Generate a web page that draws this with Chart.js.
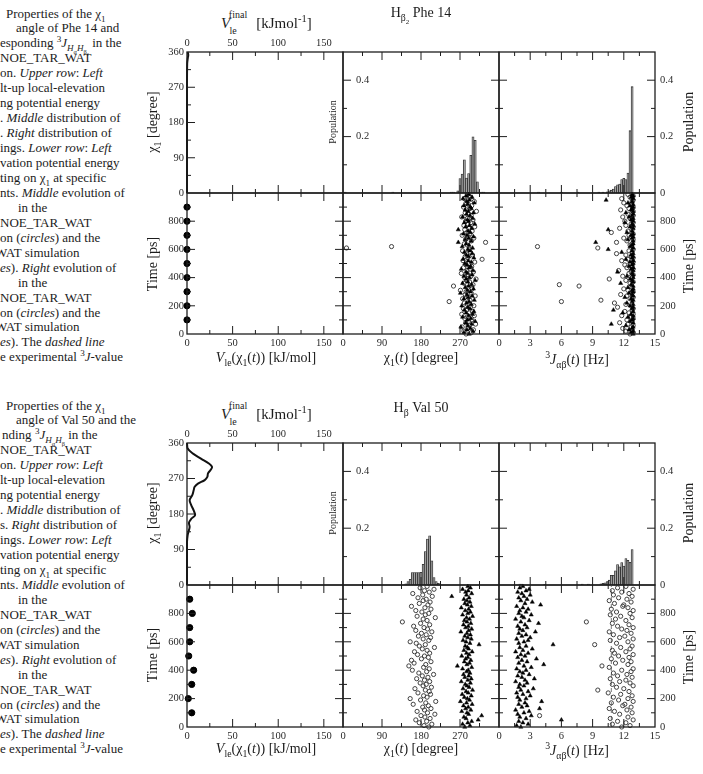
<!DOCTYPE html>
<html>
<head>
<meta charset="utf-8">
<title>chi1 and 3J properties</title>
<script src="https://cdn.jsdelivr.net/npm/chart.js@4.4.1/dist/chart.umd.min.js"></script>
<style>
  html, body { margin: 0; padding: 0; background: #fff; }
  body { position: relative; width: 703px; height: 774px; overflow: hidden;
         font-family: "Liberation Serif", "Times New Roman", serif; color: #1c1c1c; }
  .cap { position: absolute; left: 0; top: 0; width: 182px; height: 774px; overflow: hidden; }
  .cap div { position: absolute; white-space: nowrap; font-size: 13px; line-height: 1; }
  .t { position: absolute; white-space: nowrap; line-height: 1; transform: translate(-50%, -50%); }
  .t.rot { transform: translate(-50%, -50%) rotate(-90deg); }
  sub, sup { font-size: 70%; line-height: 0; }
  canvas { position: absolute; }
</style>
</head>
<body>
<div class="cap" id="cap"></div>
<script>
// ---------------- data ----------------

// tick labels
const vleTickLabels = [0, 50, 100, 150];
const chiTickLabels = [0, 90, 180, 270];
const chiTickLabelsLeft = [0, 90, 180, 270, 360];
const jTickLabels = [0, 3, 6, 9, 12, 15];
const timeTickLabels = [0, 200, 400, 600, 800];
const popTickLabels = [0, 0.2, 0.4];
const popTickLabelsInner = [0.2, 0.4];

// sampling times of the trajectories (ps)
const frameTimes = [0, 10, 20, 30, 40, 50, 60, 70, 80, 90,
  100, 110, 120, 130, 140, 150, 160, 170, 180, 190,
  200, 210, 220, 230, 240, 250, 260, 270, 280, 290,
  300, 310, 320, 330, 340, 350, 360, 370, 380, 390,
  400, 410, 420, 430, 440, 450, 460, 470, 480, 490,
  500, 510, 520, 530, 540, 550, 560, 570, 580, 590,
  600, 610, 620, 630, 640, 650, 660, 670, 680, 690,
  700, 710, 720, 730, 740, 750, 760, 770, 780, 790,
  800, 810, 820, 830, 840, 850, 860, 870, 880, 890,
  900, 910, 920, 930, 940, 950, 960, 970, 980, 990];

// times at which the local-elevation energy was written out
const leTimes = [100, 200, 300, 400, 500, 600, 700, 800, 900];

// ---- Phe 14 ----
const phe14VleChi = [0, 90, 180, 270, 330, 345, 352, 360];
const phe14VleVal = [0, 0, 0, 0, 0.2, 0.9, 1.4, 0.8];
const phe14LeVal = [0, 0, 0, 0, 0, 0, 0, 0, 0];

const phe14ChiBins = [5, 115, 250, 255, 265, 270, 275, 280, 285, 290, 295, 300, 305, 310, 320, 325, 355];
const phe14ChiPop = [0.003, 0.003, 0.003, 0.003, 0.008, 0.051, 0.067, 0.118, 0.053, 0.069, 0.134, 0.199, 0.187, 0.04, 0.003, 0.003, 0.003];

const phe14JBins = [3.8, 6.0, 7.6, 9.6, 10.0, 10.4, 10.6, 10.8, 11.0, 11.2, 11.4, 11.6, 11.8, 12.0, 12.2, 12.4, 12.6, 12.8];
const phe14JPop = [0.003, 0.003, 0.003, 0.003, 0.003, 0.004, 0.008, 0.01, 0.014, 0.023, 0.029, 0.032, 0.048, 0.052, 0.048, 0.071, 0.221, 0.377];

const phe14ChiCirc = [284, 296, 279, 301, 288, 275, 292, 306, 283, 290,
  297, 281, 286, 303, 274, 291, 299, 285, 278, 294,
  302, 287, 280, 245, 293, 276, 289, 305, 282, 296,
  284, 271, 298, 288, 255, 300, 279, 292, 286, 307,
  281, 295, 289, 273, 301, 286, 293, 278, 297, 284,
  290, 304, 277, 321, 288, 282, 299, 285, 294, 276,
  292, 8, 112, 287, 280, 329, 296, 283, 302, 289,
  275, 293, 286, 298, 281, 291, 304, 279, 288, 295,
  283, 300, 287, 274, 296, 290, 282, 308, 285, 293,
  278, 297, 289, 284, 303, 286, 280, 294, 291, 287];
const phe14ChiTri = [291, 279, 300, 286, 294, 272, 288, 297, 283, 305,
  287, 295, 276, 290, 299, 284, 302, 280, 293, 288,
  274, 296, 285, 291, 303, 279, 289, 298, 286, 271,
  294, 287, 301, 282, 290, 297, 276, 288, 305, 284,
  292, 279, 298, 287, 284, 300, 273, 291, 295, 286,
  281, 296, 289, 277, 302, 290, 285, 298, 280, 293,
  288, 299, 275, 291, 284, 266, 296, 282, 290, 301,
  286, 278, 294, 289, 266, 297, 283, 292, 304, 280,
  290, 287, 299, 276, 293, 285, 301, 289, 282, 296,
  294, 279, 288, 303, 286, 292, 277, 298, 284, 290];
const phe14JCirc = [12.6, 12.9, 12.2, 12.8, 11.9, 12.7, 12.9, 12.4, 11.6, 12.8,
  12.3, 12.9, 12.7, 11.8, 12.9, 12.5, 12.1, 12.8, 12.9, 11.4,
  12.7, 12.2, 11.1, 6.0, 9.8, 12.6, 12.9, 12.3, 11.7, 12.8,
  12.9, 12.4, 12.0, 12.8, 7.7, 5.8, 12.6, 12.9, 12.2, 10.6,
  12.8, 11.9, 12.9, 12.5, 12.7, 11.5, 12.9, 12.3, 12.8, 12.1,
  12.6, 12.9, 11.8, 12.4, 12.9, 12.7, 12.2, 11.3, 12.8, 12.5,
  12.9, 9.5, 3.7, 12.6, 12.8, 11.3, 12.3, 12.9, 12.0, 12.7,
  12.5, 12.9, 10.8, 12.4, 12.8, 11.6, 12.9, 12.2, 12.7, 12.9,
  12.1, 12.8, 12.6, 11.9, 12.9, 12.4, 12.8, 12.9, 11.7, 12.5,
  12.9, 12.3, 12.7, 12.0, 12.8, 12.9, 11.8, 12.6, 12.9, 12.4];
const phe14JTri = [12.9, 12.7, 12.9, 12.5, 12.8, 12.9, 12.2, 10.8, 12.9, 12.6,
  12.8, 12.9, 12.4, 12.9, 12.7, 11.9, 12.9, 11.0, 12.8, 12.9,
  12.6, 12.9, 12.3, 12.8, 12.9, 12.7, 12.1, 12.9, 12.8, 12.5,
  12.9, 12.8, 12.9, 12.4, 12.9, 12.7, 11.7, 12.9, 12.8, 12.6,
  12.9, 12.3, 12.9, 12.8, 11.4, 12.9, 12.7, 12.9, 12.5, 12.8,
  12.9, 12.6, 12.9, 12.2, 12.8, 12.9, 12.7, 12.9, 11.8, 12.8,
  10.5, 12.9, 12.6, 12.8, 12.9, 9.3, 12.9, 12.4, 12.8, 12.9,
  12.7, 12.9, 12.3, 12.8, 10.5, 12.9, 12.6, 12.9, 12.8, 12.1,
  12.9, 12.7, 12.9, 12.5, 12.8, 12.9, 12.2, 12.9, 12.7, 12.8,
  12.9, 12.6, 12.9, 12.4, 12.8, 10.3, 12.9, 12.7, 12.9, 12.8];
const phe14ExpJ = 12.9;

// ---- Val 50 ----
const val50VleChi = [0, 109, 126, 134, 147, 158, 168, 177, 189, 202, 215, 228, 240, 249, 257, 266, 274, 283, 291, 299, 308, 320, 333, 346, 360];
const val50VleVal = [0, 0, 0.7, 1.5, 2.9, 2.2, 4.7, 8.8, 7.3, 4.7, 2.9, 5.8, 7.3, 8.4, 12, 19.4, 22.3, 23, 25.6, 27.5, 24, 15.7, 6.6, 0.7, 0];
const val50LeVal = [5.2, 1.4, 5.2, 7.3, 1.9, 3, 3, 5.8, 3];

const val50ChiBins = [145, 150, 155, 160, 165, 170, 175, 180, 185, 190, 195, 200, 205, 210, 215, 220];
const val50ChiPop = [0.004, 0.012, 0.02, 0.044, 0.044, 0.044, 0.044, 0.045, 0.073, 0.118, 0.162, 0.173, 0.085, 0.026, 0.012, 0.006];

const val50JBins = [2.0, 2.2, 4.4, 8.0, 8.6, 9.8, 10.0, 10.2, 10.4, 10.6, 10.8, 11.0, 11.2, 11.4, 11.6, 11.8, 12.0, 12.2, 12.4, 12.6, 12.8];
const val50JPop = [0.003, 0.003, 0.002, 0.003, 0.003, 0.004, 0.006, 0.008, 0.012, 0.017, 0.034, 0.034, 0.05, 0.072, 0.064, 0.079, 0.067, 0.093, 0.087, 0.08, 0.125];

const val50ChiCirc = [198, 187, 205, 176, 193, 168, 201, 189, 180, 212,
  195, 171, 188, 203, 184, 197, 162, 191, 214, 179,
  155, 194, 186, 202, 173, 199, 190, 166, 204, 185,
  192, 178, 200, 188, 170, 196, 183, 209, 175, 193,
  160, 199, 186, 152, 191, 164, 203, 158, 181, 197,
  188, 172, 200, 165, 194, 183, 211, 176, 190, 169,
  155, 198, 185, 202, 174, 192, 181, 205, 168, 195,
  187, 163, 200, 179, 137, 194, 185, 213, 171, 190,
  198, 182, 168, 203, 189, 158, 196, 176, 201, 185,
  192, 173, 206, 184, 161, 199, 188, 210, 178, 194];
const val50ChiTri = [281, 293, 276, 288, 297, 312, 284, 279, 320, 290,
  286, 274, 295, 283, 289, 278, 298, 285, 271, 292,
  287, 280, 296, 275, 289, 284, 299, 277, 291, 286,
  282, 294, 273, 288, 296, 281, 290, 278, 293, 285,
  289, 276, 297, 264, 286, 292, 280, 295, 283, 288,
  274, 291, 285, 298, 279, 290, 287, 282, 314, 293,
  284, 277, 296, 288, 281, 294, 286, 272, 290, 297,
  283, 289, 278, 295, 286, 280, 292, 285, 299, 276,
  288, 294, 282, 290, 273, 296, 287, 281, 293, 286,
  279, 291, 251, 285, 297, 283, 289, 276, 294, 288];
const val50JCirc = [11.8, 12.6, 10.9, 12.2, 11.4, 12.9, 10.7, 12.4, 3.9, 11.6,
  12.8, 11.1, 12.3, 10.6, 12.7, 11.9, 12.1, 10.8, 12.9, 11.5,
  12.4, 11.0, 12.8, 11.7, 10.5, 12.5, 9.5, 12.0, 11.3, 12.9,
  10.9, 12.6, 11.6, 12.2, 10.7, 12.8, 11.4, 12.3, 11.0, 12.7,
  11.8, 12.9, 10.6, 9.9, 12.4, 11.2, 12.7, 11.9, 10.8, 12.5,
  11.5, 12.9, 11.1, 12.2, 10.9, 12.6, 11.7, 12.8, 9.2, 11.3,
  12.4, 10.7, 12.9, 11.6, 12.1, 11.0, 12.7, 10.6, 12.3, 11.8,
  12.9, 11.4, 12.5, 10.9, 8.4, 12.2, 11.2, 12.8, 11.7, 10.7,
  12.6, 11.3, 12.9, 10.8, 12.4, 11.9, 12.0, 11.1, 12.7, 10.6,
  12.3, 11.5, 12.8, 11.0, 12.5, 11.8, 10.9, 12.9, 11.4, 12.2];
const val50JTri = [2.1, 1.7, 2.8, 2.3, 1.9, 6.0, 2.6, 2.0, 3.1, 1.8,
  2.4, 2.9, 1.6, 3.9, 2.2, 2.7, 1.9, 2.5, 4.1, 2.0,
  2.6, 1.8, 3.0, 2.3, 1.7, 2.8, 2.1, 3.3, 1.9, 2.4,
  2.0, 2.7, 1.6, 2.5, 3.4, 2.2, 1.8, 2.9, 2.3, 2.0,
  2.6, 1.7, 3.1, 2.4, 4.3, 1.9, 2.7, 2.2, 3.6, 1.8,
  2.5, 2.1, 2.8, 1.6, 2.3, 3.2, 2.0, 2.6, 5.2, 1.9,
  2.4, 2.8, 1.7, 3.0, 2.2, 2.6, 1.9, 3.5, 2.3, 2.0,
  2.7, 1.8, 2.5, 3.8, 2.1, 2.9, 1.6, 2.4, 2.2, 3.1,
  1.9, 2.6, 2.0, 2.8, 2.3, 1.7, 4.0, 2.5, 3.2, 2.1,
  2.7, 1.9, 2.4, 3.0, 2.2, 1.8, 2.6, 2.9, 2.0, 2.3];
const val50ExpJ = 10.8;

// ---------------- caption (cropped text column) ----------------
const captionPhe = [
  [6, 'Properties of the χ<sub>1</sub>'],
  [16, 'angle of Phe 14 and'],
  [0, 'esponding <sup>3</sup><i>J</i><sub><i>H</i><sub>α</sub><i>H</i><sub>β<sub>2</sub></sub></sub> in the'],
  [0, 'NOE_TAR_WAT'],
  [0, 'on. <i>Upper row</i>: <i>Left</i>'],
  [0, 'lt-up local-elevation'],
  [0, 'ng potential energy'],
  [0, '. <i>Middle</i> distribution of'],
  [0, '. <i>Right</i> distribution of'],
  [0, 'ings. <i>Lower row</i>: <i>Left</i>'],
  [0, 'vation potential energy'],
  [0, 'ting on χ<sub>1</sub> at specific'],
  [0, 'nts. <i>Middle</i> evolution of'],
  [18, 'in the'],
  [0, 'NOE_TAR_WAT'],
  [0, 'on (<i>circles</i>) and the'],
  [-5, 'WAT simulation'],
  [0, '<i>es</i>). <i>Right</i> evolution of'],
  [18, 'in the'],
  [0, 'NOE_TAR_WAT'],
  [0, 'on (<i>circles</i>) and the'],
  [-5, 'WAT simulation'],
  [0, '<i>es</i>). The <i>dashed line</i>'],
  [0, 'e experimental <sup>3</sup><i>J</i>-value']
];
const captionVal = captionPhe.slice();
captionVal[1] = [16, 'angle of Val 50 and the'];
captionVal[2] = [2, 'nding <sup>3</sup><i>J</i><sub><i>H</i><sub>α</sub><i>H</i><sub>β</sub></sub> in the'];
captionVal[8] = [0, 's. <i>Right</i> distribution of'];

const cap = document.getElementById('cap');
[[captionPhe, 13], [captionVal, 405]].forEach(([lines, y0]) => {
  lines.forEach(([x, html], i) => {
    const d = document.createElement('div');
    d.innerHTML = html;
    d.style.left = x + 'px';
    d.style.top = (y0 + i * 14.95 - 6.5) + 'px';
    cap.appendChild(d);
  });
});

// ---------------- drawing ----------------
const framePlugin = {
  id: 'frame',
  afterDatasetsDraw(chart, args, o) {
    const { ctx, chartArea: a } = chart;
    const sx = chart.scales.x, sy = chart.scales.y;
    const seg = (x1, y1, x2, y2) => { ctx.beginPath(); ctx.moveTo(x1, y1); ctx.lineTo(x2, y2); ctx.stroke(); };
    const steps = (min, max, step) => {
      const out = [];
      for (let k = Math.ceil(min / step - 1e-9); k * step <= max + 1e-9; k++) out.push(+(k * step).toFixed(6));
      return out;
    };
    const isMajor = (v, m) => Math.abs(v / m - Math.round(v / m)) < 1e-6;

    ctx.save();
    ctx.strokeStyle = '#1e1e1e';
    ctx.lineWidth = 1;
    // tick marks point into the panel
    steps(sx.min, sx.max, o.xMinor).forEach(v => {
      if (v <= sx.min || v >= sx.max) return;
      const p = sx.getPixelForValue(v), L = isMajor(v, o.xMajor) ? 8 : 4;
      if (o.xSides.includes('top')) seg(p, a.top, p, a.top + L);
      if (o.xSides.includes('bottom')) seg(p, a.bottom, p, a.bottom - L);
    });
    steps(sy.min, sy.max, o.yMinor).forEach(v => {
      if (v <= sy.min || v >= sy.max) return;
      const p = sy.getPixelForValue(v), L = isMajor(v, o.yMajor) ? 8 : 4;
      if (o.ySides.includes('left')) seg(a.left, p, a.left + L, p);
      if (o.ySides.includes('right')) seg(a.right, p, a.right - L, p);
    });
    ctx.lineWidth = 1.3;
    ctx.strokeRect(a.left, a.top, a.right - a.left, a.bottom - a.top);

    ctx.fillStyle = '#2a2a2a';
    ctx.font = '10.5px "Liberation Serif", serif';
    o.labels.forEach(lab => {
      lab.values.forEach(v => {
        const s = String(v);
        if (lab.side === 'top') {
          ctx.textAlign = 'center'; ctx.textBaseline = 'middle';
          ctx.fillText(s, sx.getPixelForValue(v), a.top - 9);
        } else if (lab.side === 'bottom') {
          ctx.textAlign = 'center'; ctx.textBaseline = 'middle';
          ctx.fillText(s, sx.getPixelForValue(v), a.bottom + 9);
        } else if (lab.side === 'left') {
          ctx.textAlign = 'right'; ctx.textBaseline = 'middle';
          ctx.fillText(s, a.left - 3, sy.getPixelForValue(v));
        } else if (lab.side === 'right') {
          ctx.textAlign = 'left'; ctx.textBaseline = 'middle';
          ctx.fillText(s, a.right + 5, sy.getPixelForValue(v));
        } else if (lab.side === 'inLeft') {
          ctx.textAlign = 'left'; ctx.textBaseline = 'middle';
          ctx.fillText(s, a.left + 13, sy.getPixelForValue(v));
        }
      });
    });
    ctx.restore();
  }
};

const PAD = { left: 34, right: 36, top: 16, bottom: 18 };

function makePanel(box, cfg) {
  const c = document.createElement('canvas');
  const w = box.w + PAD.left + PAD.right, h = box.h + PAD.top + PAD.bottom;
  c.width = w; c.height = h;
  c.style.left = (box.x - PAD.left) + 'px';
  c.style.top = (box.y - PAD.top) + 'px';
  c.style.width = w + 'px';
  c.style.height = h + 'px';
  document.body.appendChild(c);
  new Chart(c, {
    type: 'scatter',
    data: { datasets: cfg.datasets },
    options: {
      responsive: false,
      animation: false,
      events: [],
      layout: { padding: PAD },
      scales: {
        x: { type: 'linear', display: false, min: cfg.x[0], max: cfg.x[1], offset: false },
        y: { type: 'linear', display: false, min: cfg.y[0], max: cfg.y[1] }
      },
      plugins: { legend: { display: false }, tooltip: { enabled: false }, frame: cfg.frame }
    },
    plugins: [framePlugin]
  });
}

const histogram = (bins, pops) => ({
  type: 'bar',
  data: bins.map((b, i) => ({ x: b, y: pops[i] })),
  backgroundColor: '#a3a3a3',
  borderColor: '#2a2a2a',
  borderWidth: 0.8,
  barPercentage: 1,
  categoryPercentage: 1,
  grouped: false
});
const circles = (vals) => ({
  data: frameTimes.map((t, i) => ({ x: vals[i], y: t })),
  pointStyle: 'circle', pointRadius: 2.1, borderWidth: 1,
  borderColor: '#404040', backgroundColor: 'rgba(255,255,255,0)', clip: false
});
const triangles = (vals) => ({
  data: frameTimes.map((t, i) => ({ x: vals[i], y: t })),
  pointStyle: 'triangle', pointRadius: 2.4, borderWidth: 0.5,
  borderColor: '#000', backgroundColor: '#000', clip: false
});
const curve = (vle, chi) => ({
  data: chi.map((c, i) => ({ x: vle[i], y: c })),
  showLine: true, pointRadius: 0, borderColor: '#111', borderWidth: 2, tension: 0.35, clip: false
});
const leDots = (vals) => ({
  data: leTimes.map((t, i) => ({ x: vals[i], y: t })),
  pointStyle: 'circle', pointRadius: 3.1, borderColor: '#000', backgroundColor: '#000', clip: false
});
const expLine = (j) => ({
  data: [{ x: j, y: 0 }, { x: j, y: 1000 }],
  showLine: true, pointRadius: 0, borderColor: '#7a7a7a', borderWidth: 1, borderDash: [4, 3]
});

const COLS = [187, 343, 499, 655];
const VLE_RANGE = [0, 171], CHI_RANGE = [0, 360], J_RANGE = [0, 15], POP_RANGE = [0, 0.5], TIME_RANGE = [0, 1000];
const vAx = { xMajor: 50, xMinor: 25 }, cAx = { xMajor: 90, xMinor: 45 }, jAx = { xMajor: 3, xMinor: 1.5 };
const chiY = { yMajor: 90, yMinor: 45 }, popY = { yMajor: 0.2, yMinor: 0.1 }, timeY = { yMajor: 200, yMinor: 100 };

function buildFigure(f) {
  const col = (i, y0, y1) => ({ x: COLS[i], y: y0, w: COLS[i + 1] - COLS[i], h: y1 - y0 });
  const all = ['left', 'right'], tb = ['top', 'bottom'];
  // upper row
  makePanel(col(0, f.top, f.mid), {
    x: VLE_RANGE, y: CHI_RANGE, datasets: [curve(f.vleVal, f.vleChi)],
    frame: { ...vAx, ...chiY, xSides: tb, ySides: ['left'],
      labels: [{ side: 'top', values: vleTickLabels }, { side: 'left', values: chiTickLabelsLeft }] }
  });
  makePanel(col(1, f.top, f.mid), {
    x: CHI_RANGE, y: POP_RANGE, datasets: [histogram(f.chiBins, f.chiPop)],
    frame: { ...cAx, ...popY, xSides: tb, ySides: all,
      labels: [{ side: 'inLeft', values: popTickLabelsInner }] }
  });
  makePanel(col(2, f.top, f.mid), {
    x: J_RANGE, y: POP_RANGE, datasets: [histogram(f.jBins, f.jPop)],
    frame: { ...jAx, ...popY, xSides: tb, ySides: all,
      labels: [{ side: 'right', values: popTickLabels }] }
  });
  // lower row
  makePanel(col(0, f.mid, f.bottom), {
    x: VLE_RANGE, y: TIME_RANGE, datasets: [leDots(f.leVal)],
    frame: { ...vAx, ...timeY, xSides: tb, ySides: all,
      labels: [{ side: 'left', values: timeTickLabels }, { side: 'bottom', values: vleTickLabels }] }
  });
  makePanel(col(1, f.mid, f.bottom), {
    x: CHI_RANGE, y: TIME_RANGE, datasets: [triangles(f.chiTri), circles(f.chiCirc)],
    frame: { ...cAx, ...timeY, xSides: tb, ySides: all,
      labels: [{ side: 'bottom', values: chiTickLabels }] }
  });
  makePanel(col(2, f.mid, f.bottom), {
    x: J_RANGE, y: TIME_RANGE, datasets: [triangles(f.jTri), circles(f.jCirc), expLine(f.expJ)],
    frame: { ...jAx, ...timeY, xSides: tb, ySides: all,
      labels: [{ side: 'bottom', values: jTickLabels }, { side: 'right', values: timeTickLabels }] }
  });
}

buildFigure({ top: 52, mid: 193, bottom: 334,
  vleChi: phe14VleChi, vleVal: phe14VleVal, leVal: phe14LeVal,
  chiBins: phe14ChiBins, chiPop: phe14ChiPop, jBins: phe14JBins, jPop: phe14JPop,
  chiCirc: phe14ChiCirc, chiTri: phe14ChiTri, jCirc: phe14JCirc, jTri: phe14JTri, expJ: phe14ExpJ });
buildFigure({ top: 443, mid: 585, bottom: 727,
  vleChi: val50VleChi, vleVal: val50VleVal, leVal: val50LeVal,
  chiBins: val50ChiBins, chiPop: val50ChiPop, jBins: val50JBins, jPop: val50JPop,
  chiCirc: val50ChiCirc, chiTri: val50ChiTri, jCirc: val50JCirc, jTri: val50JTri, expJ: val50ExpJ });

// ---------------- axis titles ----------------
function text(html, cx, cy, size, rot) {
  const d = document.createElement('div');
  d.className = 't' + (rot ? ' rot' : '');
  d.innerHTML = html;
  d.style.left = cx + 'px';
  d.style.top = cy + 'px';
  d.style.fontSize = size + 'px';
  document.body.appendChild(d);
}
[[0, 'H<sub>β<sub>2</sub></sub> Phe 14', 14], [391, 'H<sub>β</sub> Val 50', 408 - 391]].forEach(([dy, title, ty]) => {
  text(title, 421, ty + dy, 14);
  text('<i>V</i>', 225.5, 23 + dy, 15);
  text('final', 238, 15 + dy, 10);
  text('le', 233, 31 + dy, 10);
  text('[kJmol<sup>-1</sup>]', 284, 23 + dy, 15);
  text('χ<sub>1</sub> [degree]', 153, 122 + dy, 14, true);
  text('Time [ps]', 153, 264 + dy, 14, true);
  text('Population', 333, 122 + dy, 10, true);
  text('Population', 689, 122 + dy, 14, true);
  text('Time [ps]', 689, 266 + dy, 14, true);
  text('<i>V</i><sub>le</sub>(χ<sub>1</sub>(<i>t</i>)) [kJ/mol]', 266, 358 + dy, 14);
  text('χ<sub>1</sub>(<i>t</i>) [degree]', 421, 358 + dy, 14);
  text('<sup>3</sup><i>J</i><sub>αβ</sub>(<i>t</i>) [Hz]', 577, 360 + dy, 14);
});
</script>
</body>
</html>
